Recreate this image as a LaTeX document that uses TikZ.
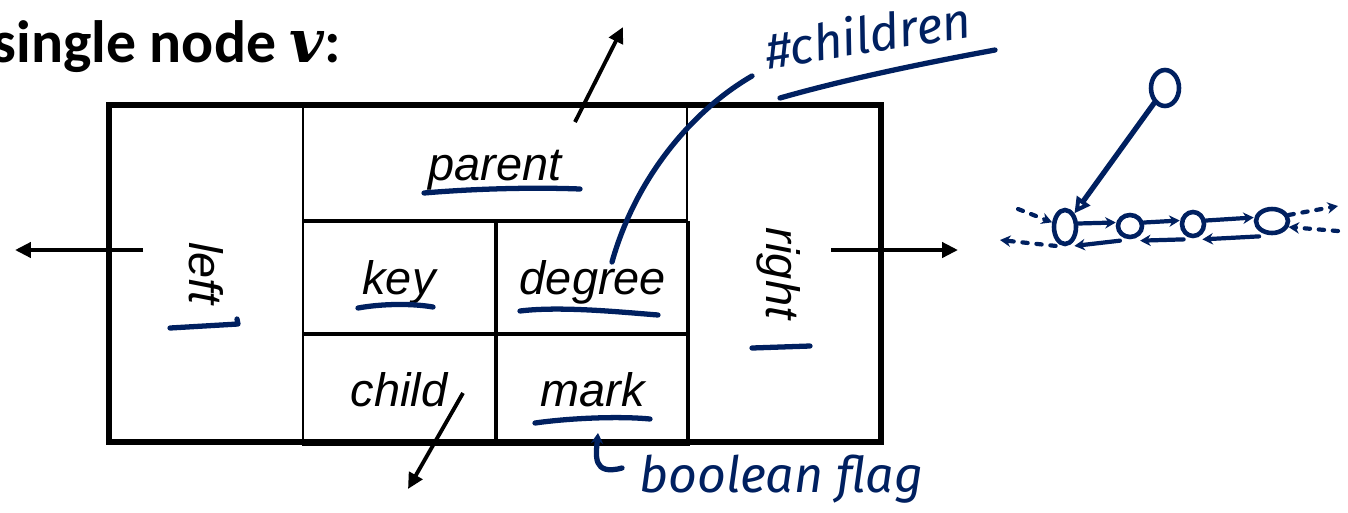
\documentclass[tikz,border=0pt]{standalone}
\usepackage{fontspec}
\setmainfont{Liberation Sans}
\newfontfamily\titlefont{Carlito}
\newfontfamily\varfont{DejaVu Serif}
\newfontfamily\handfont{Fira Sans}
\usetikzlibrary{arrows.meta, positioning, shapes.geometric}
\definecolor{ink}{HTML}{002060}

\begin{document}
\begin{tikzpicture}[
  x = 0.02cm, y = -0.02cm,
  cell/.style     = {rectangle, draw, line width=1.1pt, inner sep=0pt, text height=0.68cm, text depth=0pt,
                     font=\itshape\fontsize{26.7}{30}\selectfont},
  frame/.style    = {line width=3.4pt},
  pointer/.style  = {-{Triangle[length=9pt, width=8.5pt]}, line width=2.2pt},
  hand/.style     = {draw=ink, line width=3pt, line cap=round, line join=round},
  handtext/.style = {text=ink, font=\handfont\itshape\fontsize{28.5}{32}\selectfont},
  elem/.style     = {ellipse, draw=ink, line width=2.6pt, inner sep=0pt},
  link/.style     = {hand, line width=2.4pt, -{Stealth[length=6pt, width=6.5pt]}},
  farlink/.style  = {link, dash pattern=on 3pt off 5pt},
]
  \useasboundingbox (0,0) rectangle (1348,512);

  % title
  \node[anchor=base east, font=\titlefont\bfseries\fontsize{34}{40}\selectfont] (title) at (347,62)
    {single node {\varfont\itshape v}:};

  % the record of one node
  \node[cell, rotate=-90, minimum width=6.7cm, minimum height=3.86cm] (left) at (206.5,273.5) {left};
  \node[cell, minimum width=7.68cm, minimum height=2.28cm] (parent) at (495,163) {parent};
  \node[cell, minimum width=3.84cm, minimum height=2.22cm, below right=0pt of parent.south west] (key) {key};
  \node[cell, minimum width=3.84cm, minimum height=2.22cm, right=0pt of key] (degree) {degree};
  \node[cell, minimum width=3.84cm, minimum height=2.2cm, below=0pt of key] (child) {child};
  \node[cell, minimum width=3.84cm, minimum height=2.2cm, right=0pt of child] (mark) {mark};
  \node[cell, rotate=-90, minimum width=6.7cm, minimum height=3.86cm] (right) at (783.5,273.5) {right};
  \draw[frame] (left.south west) rectangle (right.north east);

  % pointers
  \coordinate (leftptr)  at (143,250);
  \coordinate (leftend)  at (15,250);
  \coordinate (rightptr) at (831,250);
  \coordinate (rightend) at (958,250);
  \coordinate (upptr)    at (575,122);
  \coordinate (upend)    at (623,27);
  \coordinate (downptr)  at (463,393);
  \coordinate (downend)  at (408,489);
  \draw[pointer] (leftptr)  -- (leftend);
  \draw[pointer] (rightptr) -- (rightend);
  \draw[pointer] (upptr)    -- (upend);
  \draw[pointer] (downptr)  -- (downend);

  % notes in ink
  \draw[hand] (424,193) .. controls (470,189) and (530,187) .. (580,189);
  \draw[hand] (358,308) .. controls (380,304) and (410,303) .. (433,307);
  \draw[hand] (520,311) .. controls (560,306) and (620,312) .. (658,315);
  \draw[hand] (535,423) .. controls (570,418) and (620,416) .. (650,419);
  \draw[hand] (170,328) -- (238,324) -- (237,319);
  \draw[hand] (752,348) -- (810,346);

  \draw[hand] (612,262) .. controls (635,180) and (690,112) .. (752,76);
  \node[handtext, rotate=9, anchor=base west] (numchildren) at (762,70) {\#children};
  \draw[hand] (780,98) .. controls (850,78) and (930,62) .. (995,50);

  \draw[hand, -{Stealth[length=6pt, width=7pt]}] (622,468) .. controls (592,476) and (596,455) .. (598,433);
  \node[handtext, anchor=base west] (flag) at (633,492) {boolean flag};

  % sketch of a heap
  \node[elem, minimum width=0.56cm, minimum height=0.72cm] (top) at (1165,88) {};
  \node[elem, minimum width=0.44cm, minimum height=0.68cm] (n1) at (1065,227) {};
  \node[elem, minimum width=0.48cm, minimum height=0.44cm] (n2) at (1130,226) {};
  \node[elem, minimum width=0.44cm, minimum height=0.48cm] (n3) at (1193,224) {};
  \node[elem, minimum width=0.64cm, minimum height=0.48cm] (n4) at (1272,221) {};
  \draw[hand, -{Triangle[open, length=9pt, width=9pt]}] (top) -- (n1.north east);
  \foreach \a/\b in {n1/n2, n2/n3, n3/n4} {
    \draw[link] ([yshift=2pt]\a.east) -- ([yshift=2pt]\b.west);
    \draw[link] ([yshift=-3pt]\b.south west) -- ([yshift=-3pt]\a.south east);
  }
  \coordinate (lfar)  at (1000,240);
  \coordinate (lnear) at (1018,209);
  \coordinate (rfar)  at (1338,206);
  \coordinate (rnear) at (1338,231);
  \draw[farlink] ([yshift=-3pt]n1.south west) -- (lfar);
  \draw[farlink] (lnear) -- (n1.160);
  \draw[farlink] (n4.20) -- (rfar);
  \draw[farlink] (rnear) -- (n4.-20);
\end{tikzpicture}
\end{document}
